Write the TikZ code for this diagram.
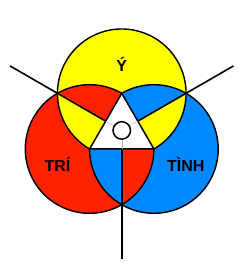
\documentclass[tikz,border=0pt]{standalone}
\usepackage{fontspec}
\setmainfont{Liberation Sans}
\usetikzlibrary{calc}
\definecolor{Rc}{RGB}{255,34,0}
\definecolor{Bc}{RGB}{0,136,255}
\definecolor{Yc}{RGB}{255,255,0}
\tikzset{
  outline/.style={draw=black,line width=1.4pt},
  ray/.style={draw=black,line width=1.6pt},
  thin gray/.style={draw=gray!60,line width=0.5pt},
  lbl/.style={font=\bfseries\fontsize{16}{18}\selectfont,anchor=base,inner sep=0pt}
}
\begin{document}
\begin{tikzpicture}[x=1pt,y=1pt]
\useasboundingbox (0,0) rectangle (246,270);
\def\rr{64.3pt}
\coordinate (R) at (89.6,121);
\coordinate (B) at (153.9,121);
\coordinate (Y) at (121.75,176.7);
\coordinate (G) at (121.75,139.57);
\coordinate (M1) at ($(Y)!0.5!(R)$);
\coordinate (M2) at ($(Y)!0.5!(B)$);
\coordinate (M3) at ($(R)!0.5!(B)$);
\coordinate (E1) at ($(G)+(150:129pt)$);
\coordinate (E2) at ($(G)+(30:129pt)$);
\coordinate (E3) at ($(G)+(270:129pt)$);
% base
\fill[Yc] (Y) circle[radius=\rr];
\fill[Bc] (B) circle[radius=\rr];
\fill[Rc] (R) circle[radius=\rr];
% sectors
\begin{scope}
\clip (G) -- ($(G)+(90:300pt)$) -- ($(G)+(150:300pt)$) -- cycle;
\fill[Yc] (Y) circle[radius=\rr]; \fill[Rc] (R) circle[radius=\rr];
\end{scope}
\begin{scope}
\clip (G) -- ($(G)+(150:300pt)$) -- ($(G)+(210:300pt)$) -- cycle;
\fill[Rc] (R) circle[radius=\rr]; \fill[Yc] (Y) circle[radius=\rr];
\end{scope}
\begin{scope}
\clip (G) -- ($(G)+(210:300pt)$) -- ($(G)+(270:300pt)$) -- cycle;
\fill[Rc] (R) circle[radius=\rr]; \fill[Bc] (B) circle[radius=\rr];
\end{scope}
\begin{scope}
\clip (G) -- ($(G)+(270:300pt)$) -- ($(G)+(330:300pt)$) -- cycle;
\fill[Bc] (B) circle[radius=\rr]; \fill[Rc] (R) circle[radius=\rr];
\end{scope}
\begin{scope}
\clip (G) -- ($(G)+(330:300pt)$) -- ($(G)+(390:300pt)$) -- cycle;
\fill[Bc] (B) circle[radius=\rr]; \fill[Yc] (Y) circle[radius=\rr];
\end{scope}
\begin{scope}
\clip (G) -- ($(G)+(30:300pt)$) -- ($(G)+(90:300pt)$) -- cycle;
\fill[Yc] (Y) circle[radius=\rr]; \fill[Bc] (B) circle[radius=\rr];
\end{scope}
% outlines
\draw[outline] ($(R)+(60:\rr)$) arc[start angle=60,end angle=360,radius=\rr];
\draw[outline] ($(B)+(180:\rr)$) arc[start angle=180,end angle=480,radius=\rr];
\draw[outline] ($(Y)+(300:\rr)$) arc[start angle=300,end angle=600,radius=\rr];
% triangle
\filldraw[fill=white,draw=black,line width=1.5pt,line join=miter] (Y) -- (R) -- (B) -- cycle;
% rays
\draw[ray] (E1) -- (M1);
\draw[ray] (E2) -- (M2);
\draw[ray] (E3) -- (M3);
\draw[thin gray] (M1) -- (G);
\draw[thin gray] (M2) -- (G);
\draw[thin gray] (M3) -- (G);
\node[circle,draw=black,line width=1.5pt,fill=white,minimum size=17.5pt,inner sep=0pt] (C) at (G) {};
% labels
\node[lbl] (ly) at (121.75,198) {Ý};
\node[lbl] (lt) at (57.5,98.3) {TRÍ};
\node[lbl] (lh) at (185.8,98) {TÌNH};
\end{tikzpicture}
\end{document}
